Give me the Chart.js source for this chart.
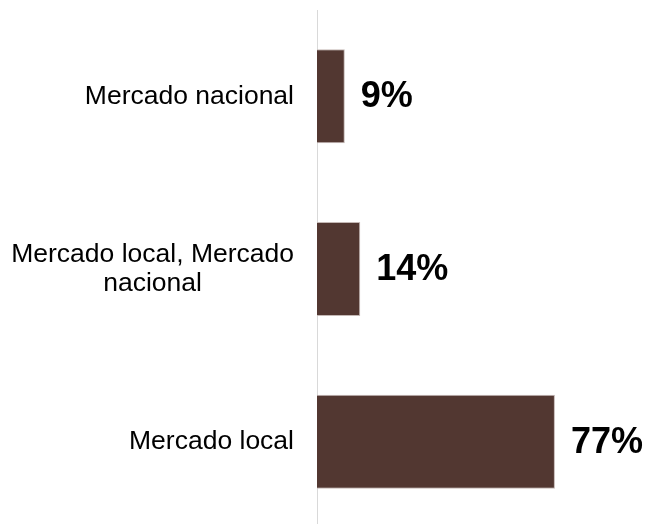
<!DOCTYPE html>
<html>
<head>
<meta charset="utf-8">
<script src="https://cdn.jsdelivr.net/npm/chart.js@4.4.1/dist/chart.umd.min.js"></script>
<style>
  html, body { margin: 0; padding: 0; background: #fff; overflow: hidden; }
  #wrap { width: 649px; height: 524px; overflow: hidden; }
</style>
</head>
<body>
<div id="wrap"><canvas id="myChart" width="649" height="528"></canvas></div>
<script>
// categories (multi-line labels as arrays), top to bottom
var categorias = [['Mercado nacional'], ['Mercado local, Mercado', 'nacional'], ['Mercado local']];
var porcentajes = [9, 14, 77];
var etiquetas = ['9%', '14%', '77%'];

var fuente = '"Liberation Sans", Arial, sans-serif';

// draws the category names left of the axis and the % labels after each bar
var etiquetasPlugin = {
  id: 'etiquetas',
  afterDatasetsDraw: function(chart) {
    var ctx = chart.ctx;
    var escalaY = chart.scales.y;
    var area = chart.chartArea;
    ctx.save();
    // category labels
    ctx.font = '26.5px ' + fuente;
    ctx.fillStyle = '#000';
    ctx.textBaseline = 'middle';
    var derecha = area.left - 23;
    var alto = 28.4;
    for (var i = 0; i < categorias.length; i++) {
      var lineas = categorias[i];
      var y = escalaY.getPixelForValue(i);
      var ancho = 0;
      lineas.forEach(function(l) { ancho = Math.max(ancho, ctx.measureText(l).width); });
      var y0 = y - (lineas.length - 1) * alto / 2;
      for (var j = 0; j < lineas.length; j++) {
        if (lineas.length > 1) {
          ctx.textAlign = 'center';
          ctx.fillText(lineas[j], derecha - ancho / 2, y0 + j * alto);
        } else {
          ctx.textAlign = 'right';
          ctx.fillText(lineas[j], derecha, y0 + j * alto);
        }
      }
    }
    // value labels
    ctx.font = 'bold 36px ' + fuente;
    ctx.textAlign = 'left';
    var meta = chart.getDatasetMeta(0);
    meta.data.forEach(function(barra, k) {
      ctx.fillText(etiquetas[k], barra.x + 16, barra.y + 1);
    });
    ctx.restore();
  }
};

new Chart(document.getElementById("myChart"), {
  type: 'bar',
  data: {
    labels: categorias,
    datasets: [{
      data: porcentajes,
      backgroundColor: '#523731',
      borderColor: '#c4b8b5',
      borderWidth: 1,
      borderSkipped: 'left',
      categoryPercentage: 1,
      barPercentage: 0.544
    }]
  },
  options: {
    indexAxis: 'y',
    responsive: false,
    animation: false,
    layout: { padding: { left: 317, right: 23, top: 10, bottom: 0 } },
    plugins: {
      legend: { display: false },
      tooltip: { enabled: false },
      title: { display: false }
    },
    scales: {
      x: {
        display: false,
        min: 0,
        max: 100
      },
      y: {
        display: true,
        offset: true,
        ticks: { display: false },
        grid: { display: false, drawTicks: false },
        border: { display: true, color: '#d9d9d9', width: 1 }
      }
    }
  },
  plugins: [etiquetasPlugin]
});
</script>
</body>
</html>
